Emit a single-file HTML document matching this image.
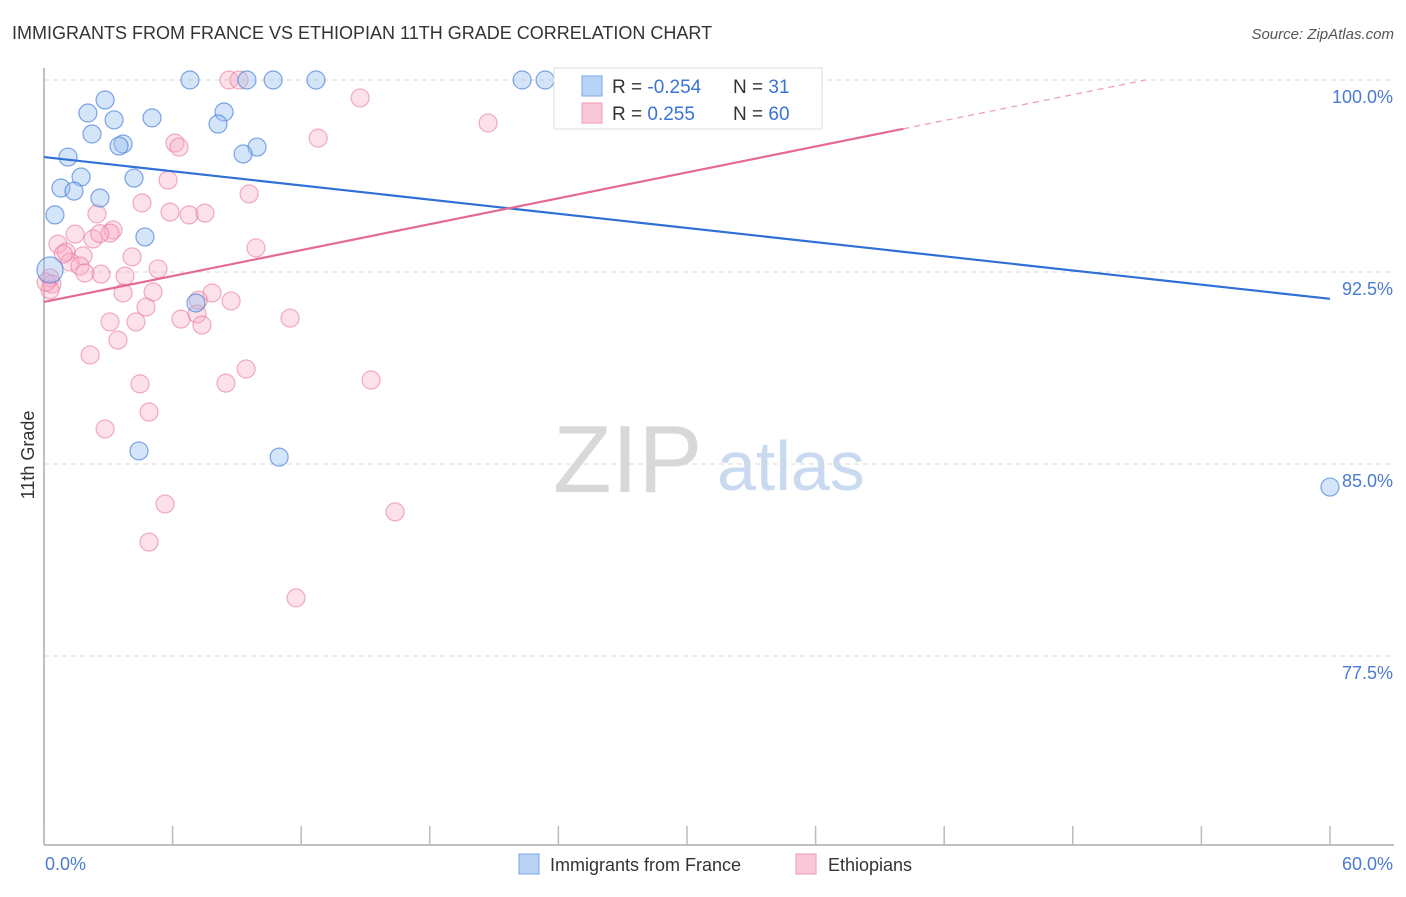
<!DOCTYPE html>
<html><head><meta charset="utf-8"><style>
body{margin:0;background:#fff;font-family:"Liberation Sans",sans-serif}
svg text{font-family:"Liberation Sans",sans-serif}
</style></head><body>
<svg id="chart" width="1406" height="892" viewBox="0 0 1406 892" xmlns="http://www.w3.org/2000/svg">
<text x="12" y="39" font-size="18" fill="#333">IMMIGRANTS FROM FRANCE VS ETHIOPIAN 11TH GRADE CORRELATION CHART</text>
<text x="1394" y="39" font-size="15" fill="#555" text-anchor="end" font-style="italic">Source: ZipAtlas.com</text>
<g>
<text x="553" y="492" font-size="96" fill="#d8d8d8" font-family="Liberation Serif,serif">ZIP</text>
<text x="717" y="490" font-size="70" fill="#c9d9f0">atlas</text>
</g>
<g id="grid"></g>
<g id="axes"></g>
<g id="pts"></g>
<g id="lines"></g>
<text transform="translate(34,455) rotate(-90)" font-size="18" fill="#333" text-anchor="middle">11th Grade</text>
<text x="45" y="870" font-size="18" fill="#4a7bd0">0.0%</text>
<text x="1393" y="870" font-size="18" fill="#4a7bd0" text-anchor="end">60.0%</text>
<g>
<rect x="554" y="68" width="268" height="61" fill="#fff" stroke="#ddd"/>
<rect x="582" y="76" width="20" height="20" fill="#b9d3f5" stroke="#7aa6e6"/>
<rect x="582" y="103" width="20" height="20" fill="#fac8d8" stroke="#ef9ab6"/>
<text x="612" y="93" font-size="19" fill="#333">R = <tspan fill="#3a72d6">-0.254</tspan></text>
<text x="733" y="93" font-size="19" fill="#333">N = <tspan fill="#3a72d6"> 31</tspan></text>
<text x="612" y="120" font-size="19" fill="#333">R = <tspan fill="#3a72d6"> 0.255</tspan></text>
<text x="733" y="120" font-size="19" fill="#333">N = <tspan fill="#3a72d6">60</tspan></text>
</g>
<g>
<rect x="519" y="854" width="20" height="20" fill="#b9d3f5" stroke="#7aa6e6"/>
<text x="550" y="871" font-size="18" fill="#333">Immigrants from France</text>
</g>
<g>
<rect x="796" y="854" width="20" height="20" fill="#fac8d8" stroke="#ef9ab6"/>
<text x="828" y="871" font-size="18" fill="#333">Ethiopians</text>
</g>
</svg>
<script>
const yTicks=[100,92.5,85,77.5];
const yTickLabels=["100.0%","92.5%","85.0%","77.5%"];
const xTicks=[0,6,12,18,24,30,36,42,48,54,60];
const franceX=[6.81,9.47,10.69,12.69,22.31,23.38,31.26,2.85,2.05,8.40,3.27,5.04,2.24,8.12,3.69,3.50,9.94,9.29,1.12,1.73,4.20,0.79,1.40,2.61,0.51,4.71,7.09,4.43,10.97,60.0,0.28];
const franceY=[100,100,100,100,100,100,100,99.22,98.71,98.75,98.44,98.52,97.89,98.28,97.50,97.42,97.38,97.11,96.99,96.21,96.17,95.78,95.66,95.39,94.73,93.87,91.29,85.51,85.27,84.10,92.58];
const ethX=[8.63,9.10,32.99,14.75,20.72,12.79,6.11,6.30,5.79,9.57,4.57,2.47,5.88,6.77,7.51,3.22,3.08,1.45,2.29,9.89,0.65,1.03,1.82,4.11,1.21,1.68,5.32,2.66,1.91,3.78,0.28,0.37,0.28,3.69,5.09,7.84,8.73,4.76,6.39,7.14,11.48,3.08,4.29,7.37,3.45,2.15,9.43,15.26,4.48,8.49,4.90,2.85,5.65,16.38,4.90,11.76,7.2,0.9,0.1,2.6];
const ethY=[100,100,100,99.30,98.32,97.73,97.54,97.38,96.09,95.55,95.20,94.77,94.84,94.73,94.80,94.14,94.02,93.98,93.79,93.44,93.59,93.28,93.13,93.09,92.89,92.73,92.62,92.42,92.46,92.34,92.27,92.03,91.80,91.68,91.72,91.68,91.37,91.13,90.66,90.86,90.70,90.55,90.55,90.43,89.84,89.26,88.71,88.28,88.13,88.16,87.03,86.37,83.44,83.13,81.95,79.77,91.4,93.2,92.1,94.0];
const franceTrend=[96.99,-0.0923];
const ethTrend=[91.33,0.1687];
const ethSolidEnd=40.1;
const X=v=>44+v*21.433, Y=v=>80+(100-v)*25.6;
const NS="http://www.w3.org/2000/svg";
function mk(t,a,p){const e=document.createElementNS(NS,t);for(const k in a)e.setAttribute(k,a[k]);p.appendChild(e);return e;}
const grid=document.getElementById('grid'),axes=document.getElementById('axes'),pts=document.getElementById('pts'),lines=document.getElementById('lines');
yTicks.forEach((t,i)=>{
 const l=mk('line',{x1:44,x2:1394,y1:Y(t),y2:Y(t),stroke:'#d8d8d8','stroke-dasharray':'5,4'},grid);
 
 
 const tx=mk('text',{x:1393,y:Y(t)+23,'font-size':18,fill:'#4a7bd0','text-anchor':'end'},grid);
 tx.textContent=yTickLabels[i];
 
 
});
const ya=mk('line',{x1:44,x2:44,y1:68,y2:845,stroke:'#aaa','stroke-width':1.5},axes);


const xa=mk('line',{x1:44,x2:1394,y1:845,y2:845,stroke:'#aaa','stroke-width':1.5},axes);


xTicks.forEach(t=>{
 const l=mk('line',{x1:X(t),x2:X(t),y1:826,y2:845,stroke:'#bbb','stroke-width':1.5},axes);
 
 
});
ethX.forEach((x,i)=>{
 const c=mk('circle',{cx:X(x),cy:Y(ethY[i]),r:9,fill:'rgba(248,170,195,0.35)',stroke:'rgba(232,120,155,0.6)','stroke-width':1.2},pts);
 
 
});
franceX.forEach((x,i)=>{
 const c=mk('circle',{cx:X(x),cy:Y(franceY[i]),r:i===30?13:9,fill:'rgba(150,190,240,0.4)',stroke:'rgba(60,120,215,0.65)','stroke-width':1.2},pts);
 
 
});
const bl=mk('line',{x1:X(0),y1:Y(franceTrend[0]),x2:X(60),y2:Y(franceTrend[0]+60*franceTrend[1]),stroke:'#2f6fd6','stroke-width':2.2},lines);


const pl=mk('line',{x1:X(0),y1:Y(ethTrend[0]),x2:X(ethSolidEnd),y2:Y(ethTrend[0]+ethSolidEnd*ethTrend[1]),stroke:'#e46a94','stroke-width':2.2},lines);


const xEnd=(100-ethTrend[0])/ethTrend[1];
const pd=mk('line',{x1:X(ethSolidEnd),y1:Y(ethTrend[0]+ethSolidEnd*ethTrend[1]),x2:X(xEnd),y2:Y(100),stroke:'#f0a0b8','stroke-width':1.3,'stroke-dasharray':'6,5'},lines);


</script>
</body></html>
